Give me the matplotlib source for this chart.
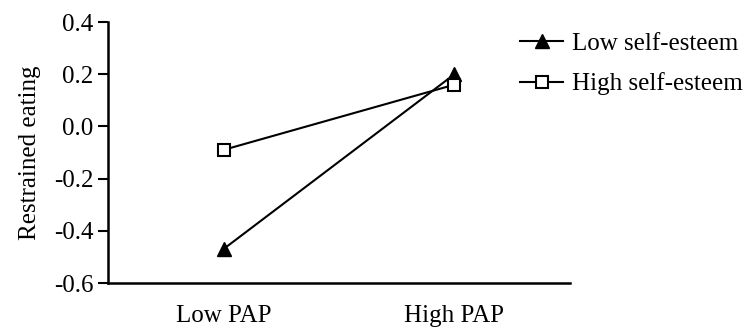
import matplotlib.pyplot as plt

# --- data ---
conditions = ['Low PAP', 'High PAP']
low_self_esteem = [-0.47, 0.20]
high_self_esteem = [-0.09, 0.16]
y_ticks = [-0.6, -0.4, -0.2, 0.0, 0.2, 0.4]

plt.rcParams['font.family'] = ['Liberation Serif', 'DejaVu Serif']

fig = plt.figure(figsize=(7.48, 3.31), dpi=100)
ax = fig.add_axes([0.1444, 0.145, 0.6176, 0.7885])

x = list(range(len(conditions)))
ax.plot(x, low_self_esteem, color='black', lw=1.5, marker='^',
        markersize=10, markerfacecolor='black', markeredgecolor='black',
        label='Low self-esteem')
ax.plot(x, high_self_esteem, color='black', lw=1.5, marker='s',
        markersize=9, markerfacecolor='white', markeredgecolor='black',
        markeredgewidth=1.5, label='High self-esteem')

ax.set_xlim(-0.5, 1.5)
ax.set_ylim(-0.6, 0.4)
ax.set_xticks(x)
ax.set_xticklabels(conditions, fontsize=18)
ax.set_yticks(y_ticks)
ax.set_yticklabels([f'{v:.1f}' for v in y_ticks], fontsize=18)
ax.tick_params(axis='x', length=0, pad=16)
ax.tick_params(axis='y', length=7.5, width=1.5, pad=3)
ax.set_ylabel('Restrained eating', fontsize=18, labelpad=9)

for side in ['top', 'right']:
    ax.spines[side].set_visible(False)
for side in ['left', 'bottom']:
    ax.spines[side].set_linewidth(1.8)

fig.legend(loc='upper left', bbox_to_anchor=(0.679, 0.94), frameon=False,
           fontsize=18, handlelength=1.7, handletextpad=0.35,
           labelspacing=0.7, borderpad=0)

fig.savefig('out.png', dpi=100)
